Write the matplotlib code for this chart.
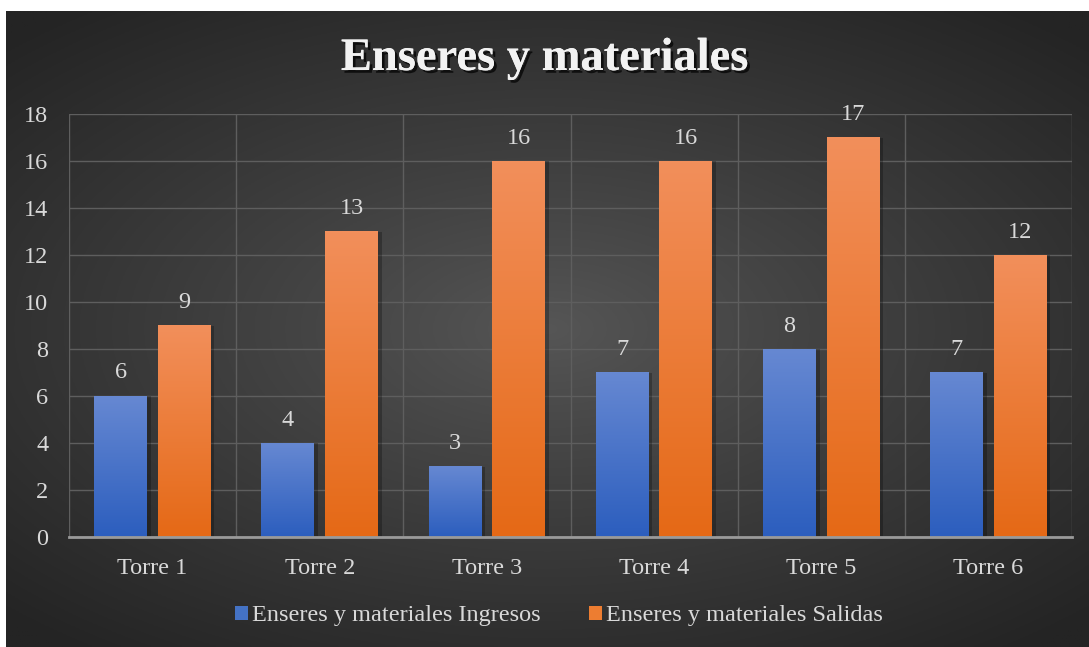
import numpy as np
import matplotlib.pyplot as plt
from matplotlib import patheffects as pe
from matplotlib.patches import Patch

plt.rcParams['font.family'] = ['Liberation Serif', 'DejaVu Serif']

categorias = ['Torre 1', 'Torre 2', 'Torre 3', 'Torre 4', 'Torre 5', 'Torre 6']
ingresos = [6, 4, 3, 7, 8, 7]
salidas = [9, 13, 16, 16, 17, 12]
series = ['Enseres y materiales Ingresos', 'Enseres y materiales Salidas']

fig = plt.figure(figsize=(10.89, 6.47), dpi=100)
fig.patch.set_facecolor('white')

# fondo con degradado radial
bg = fig.add_axes([6 / 1089, 0, 1 - 6 / 1089, 1 - 11 / 647], zorder=-5)
yy, xx = np.mgrid[-1:1:300j, -1:1:500j]
r = np.sqrt((xx * 0.95) ** 2 + (yy * 1.05) ** 2)
r = np.clip(r / 1.35, 0, 1)
c0 = np.array([0x56, 0x56, 0x56]) / 255
c1 = np.array([0x24, 0x24, 0x24]) / 255
img = c0 + (c1 - c0) * r[..., None] ** 0.9
bg.imshow(img, aspect='auto', extent=[0, 1, 0, 1])
bg.axis('off')

ax = fig.add_axes([69 / 1089, 110 / 647, 1003 / 1089, 423 / 647])
ax.patch.set_alpha(0)

x = np.arange(len(categorias))
ancho = 0.317
desp = 0.19

def grad_bars(bars, top, bottom):
    g = np.linspace(0, 1, 100)[:, None]
    top = np.array(top) / 255
    bottom = np.array(bottom) / 255
    col = top + (bottom - top) * g[..., None]
    for b in bars:
        x0, y0 = b.get_x(), b.get_y()
        w, h = b.get_width(), b.get_height()
        # sombra
        ax.bar(x0 + w / 2 + 0.012, h, w * 1.06, bottom=y0, color='black',
               alpha=0.25, zorder=2, linewidth=0)
        ax.imshow(col, extent=[x0, x0 + w, y0, y0 + h], aspect='auto', zorder=3,
                  interpolation='bilinear')
        b.set_visible(False)

b1 = ax.bar(x - desp, ingresos, ancho, color='#4472C4', zorder=3)
b2 = ax.bar(x + desp, salidas, ancho, color='#ED7D31', zorder=3)
grad_bars(b1, (0x66, 0x88, 0xD2), (0x2C, 0x5E, 0xBE))
grad_bars(b2, (0xF2, 0x8F, 0x5B), (0xE5, 0x69, 0x16))

for xs, vals in ((x - desp, ingresos), (x + desp, salidas)):
    for xi, v in zip(xs, vals):
        ax.annotate(str(v), (xi, v), xytext=(0, 9), textcoords='offset points',
                    ha='center', va='bottom', fontsize=17.5, color='#D9D9D9', zorder=5)

ax.set_xlim(-0.5, len(categorias) - 0.5)
ax.set_ylim(0, 18)
ax.set_yticks(range(0, 19, 2))
ax.set_xticks(x)
ax.set_xticklabels(categorias)
ax.set_xticks(np.arange(-0.5, len(categorias), 1), minor=True)
ax.tick_params(axis='both', which='both', length=0, labelsize=17.5, colors='#D9D9D9')
ax.tick_params(axis='y', pad=15)
ax.tick_params(axis='x', pad=15)
ax.grid(True, axis='y', color='#5E5E5E', linewidth=1, zorder=1)
ax.grid(True, axis='x', which='minor', color='#5E5E5E', linewidth=1, zorder=1)
ax.grid(False, axis='x', which='major')
ax.set_axisbelow(True)
for s in ['top', 'right', 'left']:
    ax.spines[s].set_visible(False)
ax.spines['bottom'].set_color('#9A9A9A')
ax.spines['bottom'].set_linewidth(2)
ax.spines['bottom'].set_zorder(6)

fig.text(0.5, 1 - 59 / 647, 'Enseres y materiales', ha='center', va='center',
         fontsize=33.5, fontweight='bold', color='#F2F2F2',
         path_effects=[pe.withSimplePatchShadow(offset=(2, -2), shadow_rgbFace='black', alpha=0.7),
                       pe.Normal()])

handles = [Patch(facecolor='#4472C4'), Patch(facecolor='#ED7D31')]
fig.legend(handles, series, loc='center', bbox_to_anchor=(0.513, 1 - 616 / 647), ncol=2,
           frameon=False, fontsize=17.5, labelcolor='#D9D9D9', handlelength=0.55,
           handleheight=0.55, handletextpad=0.15, columnspacing=2.0)

fig.savefig('out.png', dpi=100, facecolor=fig.get_facecolor())
